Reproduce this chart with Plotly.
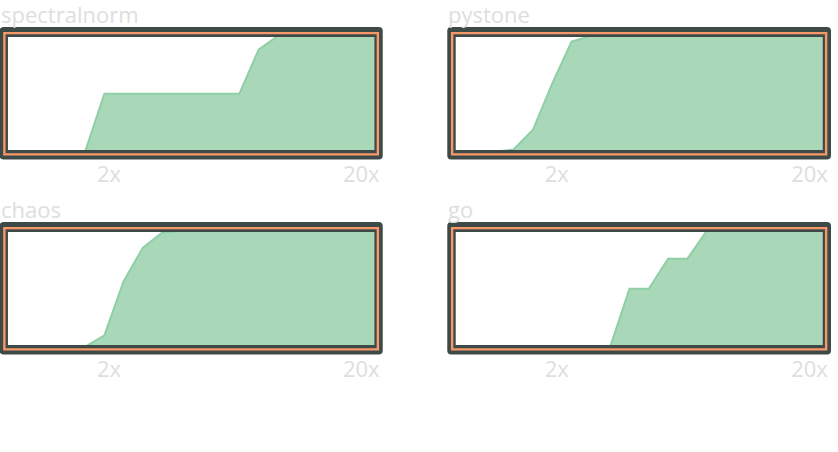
import math
import plotly.graph_objects as go

# ---- data ----
speedup_grid = [0.796, 0.949, 1.132, 1.349, 1.609, 1.919, 2.288, 2.728, 3.252, 3.878,
                4.624, 5.513, 6.574, 7.838, 9.346, 11.14, 13.29, 15.84, 18.89, 22.52]
benchmarks = ["spectralnorm", "pystone", "chaos", "go"]
spectralnorm = [0, 0, 0, 0, 0, 0.5, 0.5, 0.5, 0.5, 0.5, 0.5, 0.5, 0.5, 0.88, 1, 1, 1, 1, 1, 1]
pystone = [0, 0, 0, 0.02, 0.19, 0.59, 0.95, 1, 1, 1, 1, 1, 1, 1, 1, 1, 1, 1, 1, 1]
chaos = [0, 0, 0, 0, 0, 0.10, 0.566, 0.856, 0.985, 1, 1, 1, 1, 1, 1, 1, 1, 1, 1, 1]
go_bench = [0, 0, 0, 0, 0, 0, 0, 0, 0, 0.5, 0.5, 0.76, 0.76, 1, 1, 1, 1, 1, 1, 1]
series = [spectralnorm, pystone, chaos, go_bench]
tick_vals = [2, 20]
tick_text = ["2x", "20x"]

# ---- layout geometry (pixels) ----
W, H = 838, 452
plot_rects = [(8, 37, 377, 150), (459, 37, 828.5, 150),
              (8, 232, 377, 345), (459, 232, 828.5, 345)]

DARK = "#3e4a47"
ORANGE = "#f79868"
FILL = "#a9d8b9"
LINE = "#8fcfa5"
TXT = "#dedede"
FONT = "Open Sans"
FSIZE = 22


def px(x):
    return x / W


def py(y):
    return 1 - y / H


def rounded_rect(x0, y0, x1, y1, r):
    return (f"M{px(x0 + r)},{py(y0)} L{px(x1 - r)},{py(y0)} Q{px(x1)},{py(y0)} {px(x1)},{py(y0 + r)} "
            f"L{px(x1)},{py(y1 - r)} Q{px(x1)},{py(y1)} {px(x1 - r)},{py(y1)} "
            f"L{px(x0 + r)},{py(y1)} Q{px(x0)},{py(y1)} {px(x0)},{py(y1 - r)} "
            f"L{px(x0)},{py(y0 + r)} Q{px(x0)},{py(y0)} {px(x0 + r)},{py(y0)} Z")


def plain_rect(x0, y0, x1, y1):
    return (f"M{px(x0)},{py(y0)} L{px(x1)},{py(y0)} L{px(x1)},{py(y1)} "
            f"L{px(x0)},{py(y1)} Z")


fig = go.Figure()
shapes = []
annotations = []
xr = [math.log10(speedup_grid[0]), math.log10(speedup_grid[-1])]

for i, (name, vals, rect) in enumerate(zip(benchmarks, series, plot_rects)):
    n = i + 1
    xa = "x" if n == 1 else f"x{n}"
    ya = "y" if n == 1 else f"y{n}"
    x0, y0, x1, y1 = rect
    fig.add_trace(go.Scatter(
        x=speedup_grid, y=vals, mode="lines", fill="tozeroy",
        fillcolor=FILL, line=dict(color=LINE, width=2),
        xaxis=xa, yaxis=ya, showlegend=False, hoverinfo="skip"))
    axis_x = dict(domain=[px(x0), px(x1)], type="log", range=xr,
                  tickvals=tick_vals, ticktext=tick_text, showgrid=False,
                  zeroline=False, showline=False, ticks="",
                  ticklabelstandoff=9,
                  tickfont=dict(family=FONT, size=FSIZE, color=TXT),
                  anchor=ya, fixedrange=True)
    axis_y = dict(domain=[py(y1), py(y0)], range=[0.016, 0.99], visible=False,
                  anchor=xa, fixedrange=True)
    fig.layout[("xaxis" if n == 1 else f"xaxis{n}")] = axis_x
    fig.layout[("yaxis" if n == 1 else f"yaxis{n}")] = axis_y

    ox0, oy0, ox1, oy1 = x0 - 8.5, y0 - 10, x1 + 8.5, y1 + 9.5
    shapes.append(dict(type="path", xref="paper", yref="paper",
                       path=rounded_rect(ox0, oy0, ox1, oy1, 4) + " " + plain_rect(x0, y0, x1, y1),
                       fillcolor=DARK, fillrule="evenodd", line=dict(width=0),
                       layer="above"))
    shapes.append(dict(type="rect", xref="paper", yref="paper",
                       x0=px(x0 - 3.6), x1=px(x1 + 3.6), y0=py(y0 - 3.9), y1=py(y1 + 4.4),
                       line=dict(color=ORANGE, width=2.4), fillcolor="rgba(0,0,0,0)",
                       layer="above"))
    annotations.append(dict(text=name, xref="paper", yref="paper",
                            x=px(ox0), y=py(oy0 + 3), xanchor="left", yanchor="bottom",
                            showarrow=False, borderpad=0,
                            font=dict(family=FONT, size=FSIZE, color=TXT)))

fig.update_layout(width=W, height=H, margin=dict(l=0, r=0, t=0, b=0),
                  paper_bgcolor="white", plot_bgcolor="white",
                  shapes=shapes, annotations=annotations)
fig.write_html("out.html")
